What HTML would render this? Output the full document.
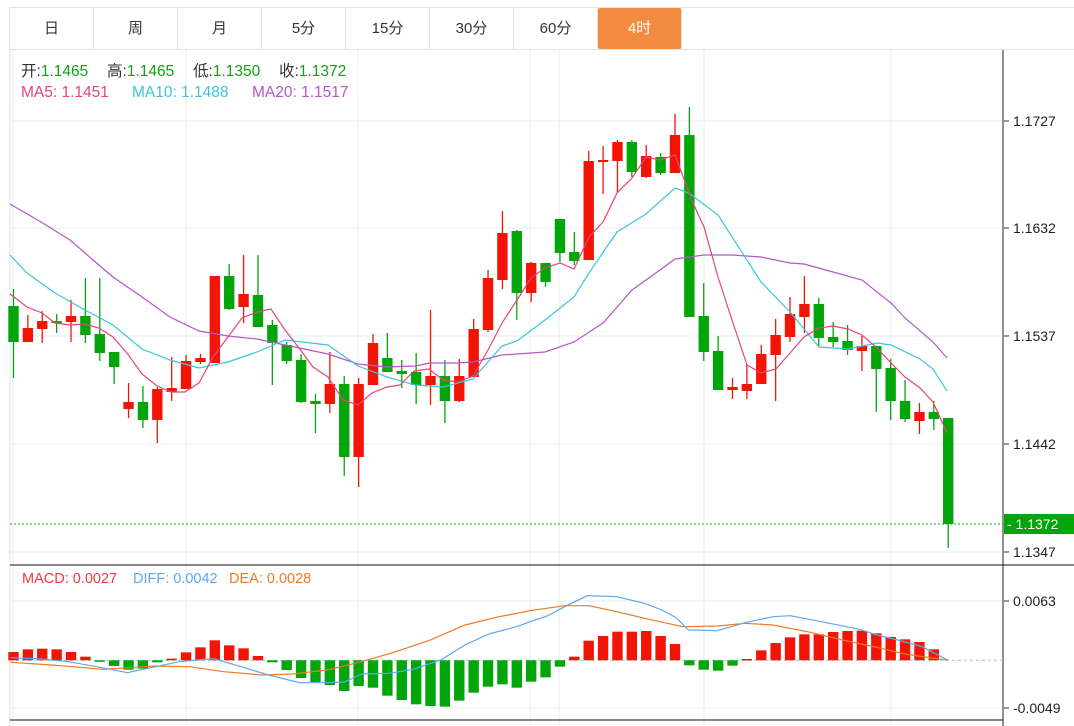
<!DOCTYPE html>
<html><head><meta charset="utf-8"><style>
html,body{margin:0;padding:0;background:#fff;width:1074px;height:726px;overflow:hidden;font-family:"Liberation Sans","Noto Sans CJK SC",sans-serif}
.tabs{position:absolute;left:9px;top:7px;height:43px;width:1065px;border:1px solid #dde3e8;border-right:none;box-sizing:border-box;display:flex}
.tab{width:84px;height:41px;border-right:1px solid #dde3e8;box-sizing:border-box;text-align:center;line-height:41px;font-size:15px;color:#333}
.tab.on{background:#f28b3f;color:#fff;border-radius:2px}
svg{position:absolute;left:0;top:0}
</style></head><body>
<div class="tabs"><div class="tab">日</div><div class="tab">周</div><div class="tab">月</div><div class="tab">5分</div><div class="tab">15分</div><div class="tab">30分</div><div class="tab">60分</div><div class="tab on">4时</div></div>
<svg id="s" width="1074" height="726" xmlns="http://www.w3.org/2000/svg" font-family="Liberation Sans, Noto Sans CJK SC, sans-serif"></svg>
<script>
var s=document.getElementById('s'),h='';
function L(x1,y1,x2,y2,c,w,d){h+='<line x1="'+x1+'" y1="'+y1+'" x2="'+x2+'" y2="'+y2+'" stroke="'+c+'" stroke-width="'+(w||1)+'"'+(d?' stroke-dasharray="'+d+'"':'')+'/>';}
function T(x,y,t,c,sz){h+='<text x="'+x+'" y="'+y+'" fill="'+c+'" font-size="'+(sz||14)+'">'+t+'</text>';}
var G='#e4ecf2';
L(10,50,10,726,'#dde3e8');
[121,228,336,444,552,601,708].forEach(function(y){L(10,y,1003,y,G);});
[13,186,358,530,559,704,891].forEach(function(x){L(x,50,x,726,G);});
L(10,565,1074,565,'#111');L(10,720,1003,720,'#111');L(1003,50,1003,726,'#222');
[[121,'1.1727'],[228,'1.1632'],[336,'1.1537'],[444,'1.1442'],[552,'1.1347']].forEach(function(a){L(1004,a[0],1009,a[0],'#333');T(1013,a[0]+5,a[1],'#222',14);});
[[601,'0.0063'],[708,'-0.0049']].forEach(function(a){L(1004,a[0],1009,a[0],'#333');T(1013,a[0]+5,a[1],'#222',14);});
L(10,524,1003,524,'#14a814',1,'2,2');
h+='<rect x="1004" y="514" width="70" height="20" fill="#02a60a"/>';T(1007,529,'- 1.1372','#fff',14);
var C=[[306,342,289,378,0],[328,342,315,342,1],[321,329,311,343,1],[321,323,314,333,0],[316,322,300,342,1],[316,335,278,343,0],[334,353,278,361,0],[352,367,352,384,0],[402,409,383,418,1],[402,420,386,428,0],[389,420,387,443,1],[388,392,357,401,1],[361,389,355,389,1],[358,362,354,364,1],[276,363,276,363,1],[276,309,264,310,0],[294,307,255,323,1],[295,327,255,327,0],[325,343,320,385,0],[345,361,342,364,0],[360,402,354,403,0],[401,404,394,433,0],[384,404,352,413,1],[384,457,376,476,0],[384,457,378,487,1],[343,385,334,385,1],[358,372,333,372,0],[371,374,360,388,0],[372,385,353,404,0],[376,385,310,405,1],[376,401,360,423,0],[376,401,359,402,1],[329,377,319,377,1],[278,330,270,332,1],[233,280,211,289,1],[231,293,230,320,0],[263,293,262,302,1],[263,282,263,287,0],[219,253,219,262,0],[252,261,232,265,0],[161,260,151,260,1],[160,162,146,194,1],[142,161,140,193,1],[142,172,140,177,0],[156,177,145,178,1],[157,173,153,175,0],[135,173,114,173,1],[135,317,107,317,0],[316,352,283,361,0],[351,390,336,390,0],[387,390,378,399,1],[384,391,365,399,1],[354,384,345,384,1],[335,355,319,401,1],[314,337,297,342,1],[304,317,276,333,1],[304,338,298,347,0],[337,342,322,347,0],[341,350,325,355,0],[346,351,336,371,1],[346,369,346,412,0],[368,401,359,420,0],[401,419,380,422,0],[412,421,403,434,1],[412,419,401,430,0],[418,524,418,548,0]];
function X(i){return 13.5+i*14.38;}
C.forEach(function(c,i){var x=X(i),col=c[4]?'#f21505':'#02a60a';L(x,c[2],x,c[3],col,1.3);h+='<rect x="'+(x-5.2)+'" y="'+c[0]+'" width="10.4" height="'+Math.max(2,c[1]-c[0])+'" fill="'+col+'"/>';});
function P(pts,c){h+='<polyline fill="none" stroke="'+c+'" stroke-width="1.2" points="'+pts.map(function(p){return p.join(',')}).join(' ')+'"/>';}
P([[10,204],[41,222],[70,240],[93,260],[113,277],[142,297],[170,317],[199,331],[228,336],[257,339],[285,345],[328,354],[358,364],[387,367],[415,366],[430,363],[458,363],[473,362],[502,355],[531,353],[545,352],[574,342],[603,323],[632,290],[660,270],[675,259],[704,255],[732,255],[761,257],[790,263],[804,264],[833,272],[862,280],[891,303],[905,318],[933,342],[947,358]],'#b457c8');
P([[10,255],[27,273],[55,293],[85,310],[113,325],[142,349],[170,360],[199,368],[228,362],[257,352],[285,340],[328,345],[358,366],[387,377],[415,385],[443,387],[473,379],[502,346],[517,341],[545,320],[574,297],[589,273],[617,232],[646,214],[675,188],[689,193],[718,215],[761,282],[790,312],[819,347],[848,349],[877,343],[891,345],[920,359],[933,369],[947,391]],'#3bc6dc');
P([[10,294],[27,307],[42,313],[55,323],[70,325],[85,324],[99,328],[113,337],[127,353],[142,374],[157,386],[171,392],[185,392],[199,383],[213,357],[228,337],[242,318],[257,312],[271,309],[285,330],[299,348],[313,367],[328,377],[343,400],[358,405],[372,393],[387,387],[400,385],[414,371],[429,369],[443,380],[458,382],[473,376],[488,350],[502,323],[517,300],[531,278],[545,268],[560,263],[574,269],[589,237],[603,222],[617,193],[632,178],[646,157],[660,160],[675,155],[693,203],[704,227],[718,277],[732,320],[747,365],[761,373],[776,369],[790,353],[804,337],[819,328],[833,326],[848,329],[862,335],[877,348],[891,363],[905,377],[920,388],[933,402],[947,433]],'#e8437a');
h+='<text y="76" font-size="15.5"><tspan x="21" fill="#333">开:</tspan><tspan fill="#14a014">1.1465</tspan><tspan x="107" fill="#333">高:</tspan><tspan fill="#14a014">1.1465</tspan><tspan x="193" fill="#333">低:</tspan><tspan fill="#14a014">1.1350</tspan><tspan x="279" fill="#333">收:</tspan><tspan fill="#14a014">1.1372</tspan></text>';
T(21,97,'MA5: 1.1451','#e8437a',15.5);T(132,97,'MA10: 1.1488','#3bc6dc',15.5);T(252,97,'MA20: 1.1517','#b457c8',15.5);
var Z=660.3;L(10,Z,1003,Z,'#8ccbe8',1,'3,3');
var B=[276,268,266,268,276,290,303,318,329,326,307,296,277,262,241,256,265,288,307,330,354,366,375,393,378,383,407,420,433,438,440,422,398,380,373,383,365,352,320,290,242,228,215,215,213,228,252,316,329,332,317,297,271,249,232,223,223,216,213,212,220,231,238,246,268];
B.forEach(function(v,i){var y=560+v/3,x=X(i),col=y<Z?'#f21505':'#02a60a';var t=Math.min(y,Z),hh=Math.max(1.5,Math.abs(y-Z));h+='<rect x="'+(x-5.2)+'" y="'+t+'" width="10.4" height="'+hh+'" fill="'+col+'"/>';});
function M(a,b){return a.map(function(p){return [p[0]/2.904,560+p[1]/3];}).concat(b.map(function(p){return [530+p[0]/2.882,560+p[1]/3];}));}
P(M([[30,307],[150,315],[300,328],[450,318],[550,320],[650,335],[760,345],[850,342],[950,330],[1050,305],[1150,275],[1250,240],[1350,195],[1450,170]],[[0,152],[100,137],[170,137],[250,155],[330,175],[440,200],[540,198],[620,190],[700,195],[800,215],[900,240],[1000,262],[1080,282],[1205,301]]),'#f07a22');
P(M([[30,293],[120,297],[200,305],[290,322],[370,338],[430,325],[520,305],[620,296],[700,320],[780,345],[870,368],[950,368],[1000,366],[1050,342],[1130,340],[1200,328],[1280,300],[1350,255],[1420,222],[1500,200]],[[0,185],[50,168],[100,140],[165,107],[250,110],[330,130],[380,150],[420,172],[457,210],[540,212],[620,188],[700,170],[750,167],[840,185],[950,208],[1000,225],[1060,240],[1130,260],[1205,301]]),'#5aa9f0');
T(22,583,'MACD: 0.0027','#ee3b3b',14.5);T(133,583,'DIFF: 0.0042','#5aa9f0',14.5);T(229,583,'DEA: 0.0028','#f07a22',14.5);
s.innerHTML=h;
</script>
</body></html>
